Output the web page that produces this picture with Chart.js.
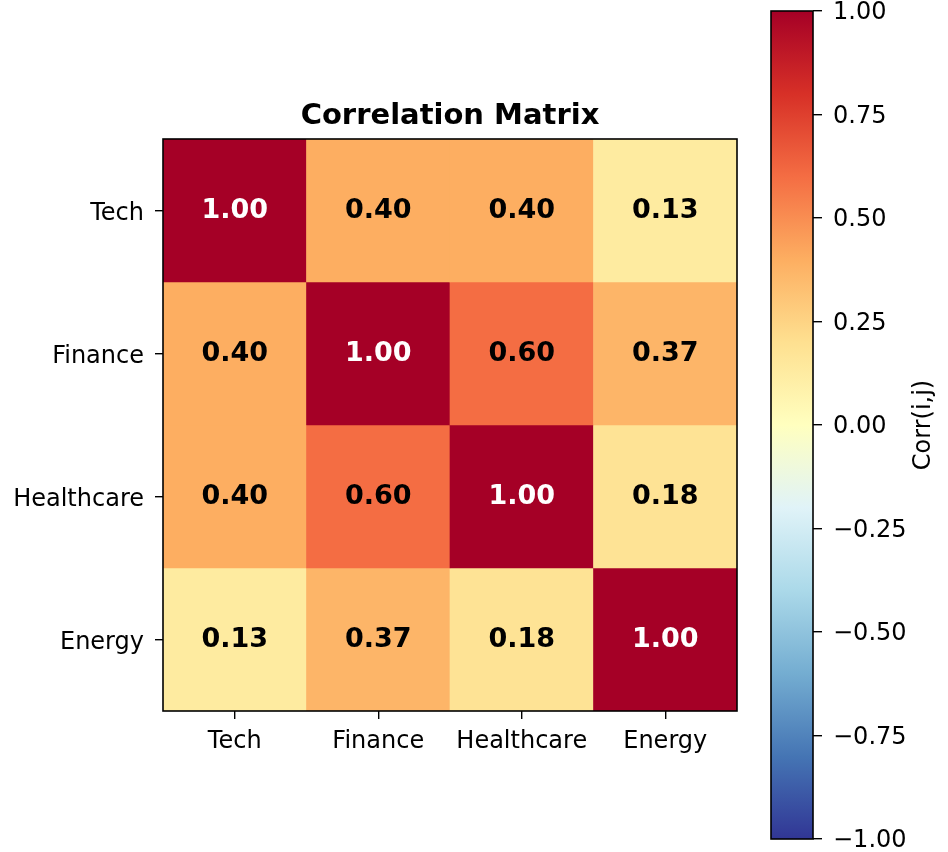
<!DOCTYPE html>
<html>
<head>
<meta charset="utf-8">
<script src="https://cdn.jsdelivr.net/npm/chart.js@4.4.1/dist/chart.umd.min.js"></script>
<style>
    body { margin: 0; background: #fff; }
    #wrap { position: relative; width: 948px; height: 852px; }
    canvas { position: absolute; left: 0; top: 0; }
</style>
</head>
<body>
<div id="wrap">
    <canvas id="matriz" width="948" height="852"></canvas>
    <canvas id="barra" width="948" height="852"></canvas>
</div>
<script>
const linhas = ["Tech", "Finance", "Healthcare", "Energy"];
const colunas = ["Tech", "Finance", "Healthcare", "Energy"];

const corrTech = [1.00, 0.40, 0.40, 0.13];
const corrFinance = [0.40, 1.00, 0.60, 0.37];
const corrHealthcare = [0.40, 0.60, 1.00, 0.18];
const corrEnergy = [0.13, 0.37, 0.18, 1.00];
const valores = [corrTech, corrFinance, corrHealthcare, corrEnergy];

const ticksBarra = [1.00, 0.75, 0.50, 0.25, 0.00, -0.25, -0.50, -0.75, -1.00];

// RdYlBu invertido (de -1 ate 1)
const paleta = ["#313695", "#4575b4", "#74add1", "#abd9e9", "#e0f3f8", "#ffffbf",
                "#fee090", "#fdae61", "#f46d43", "#d73027", "#a50026"];

const FONTE = "'DejaVu Sans', sans-serif";
Chart.defaults.color = "#000";
Chart.defaults.font.family = FONTE;

function hexParaRgb(h) {
    return [parseInt(h.substr(1, 2), 16), parseInt(h.substr(3, 2), 16), parseInt(h.substr(5, 2), 16)];
}

function corPara(v) {
    const t = Math.min(1, Math.max(0, (v + 1) / 2)) * (paleta.length - 1);
    const i = Math.min(paleta.length - 2, Math.floor(t));
    const f = t - i;
    const a = hexParaRgb(paleta[i]);
    const b = hexParaRgb(paleta[i + 1]);
    const c = a.map((x, k) => Math.round(x + (b[k] - x) * f));
    return `rgb(${c[0]}, ${c[1]}, ${c[2]})`;
}

// moldura preta em volta da area do grafico
const moldura = {
    id: "moldura",
    afterDraw(chart) {
        const { ctx, chartArea } = chart;
        ctx.save();
        ctx.strokeStyle = "#000";
        ctx.lineWidth = 1.6;
        ctx.strokeRect(chartArea.left, chartArea.top, chartArea.right - chartArea.left, chartArea.bottom - chartArea.top);
        ctx.restore();
    }
};

// titulo centrado sobre a matriz (como no matplotlib)
const titulo = {
    id: "titulo",
    afterDraw(chart) {
        const { ctx, chartArea } = chart;
        ctx.save();
        ctx.font = `bold 29px ${FONTE}`;
        ctx.fillStyle = "#000";
        ctx.textAlign = "center";
        ctx.textBaseline = "alphabetic";
        ctx.fillText("Correlation Matrix", (chartArea.left + chartArea.right) / 2, chartArea.top - 15);
        ctx.restore();
    }
};

// numeros dentro das celulas
const rotulos = {
    id: "rotulos",
    afterDatasetsDraw(chart) {
        const { ctx, scales } = chart;
        ctx.save();
        ctx.font = `bold 27px ${FONTE}`;
        ctx.textAlign = "center";
        ctx.textBaseline = "middle";
        valores.forEach((linha, i) => {
            linha.forEach((v, j) => {
                ctx.fillStyle = v > 0.7 ? "#fff" : "#000";
                ctx.fillText(v.toFixed(2), scales.x.getPixelForValue(j), scales.y.getPixelForValue(i));
            });
        });
        ctx.restore();
    }
};

new Chart(document.getElementById("matriz"), {
    type: "bar",
    data: {
        labels: colunas,
        datasets: valores.map((linha, i) => ({
            label: linhas[i],
            data: linha.map(() => [i - 0.5, i + 0.5]),
            backgroundColor: linha.map(corPara),
            borderWidth: 0,
            barPercentage: 1,
            categoryPercentage: 1,
            grouped: false
        }))
    },
    options: {
        responsive: false,
        animation: false,
        devicePixelRatio: 1,
        layout: { padding: { left: 0, right: 211, top: 139, bottom: 0 } },
        plugins: {
            legend: { display: false },
            tooltip: { enabled: false },
            title: { display: false }
        },
        scales: {
            x: {
                type: "category",
                grid: { offset: false, drawOnChartArea: false, drawTicks: true, tickLength: 8, color: "#000", lineWidth: 1.4 },
                border: { display: false },
                ticks: { font: { size: 24 }, padding: 8, maxRotation: 0 },
                afterFit(scale) { scale.height = 141; }
            },
            y: {
                type: "linear",
                min: -0.5,
                max: 3.5,
                reverse: true,
                afterBuildTicks(scale) { scale.ticks = linhas.map((_, i) => ({ value: i })); },
                grid: { drawOnChartArea: false, drawTicks: true, tickLength: 8, color: "#000", lineWidth: 1.4 },
                border: { display: false },
                ticks: { font: { size: 24 }, padding: 11, labelOffset: 3, callback: (v) => linhas[v] },
                afterFit(scale) { scale.width = 163; }
            }
        }
    },
    plugins: [moldura, rotulos, titulo]
});

// barra de cores
const tituloBarra = {
    id: "tituloBarra",
    afterDraw(chart) {
        const { ctx, chartArea } = chart;
        ctx.save();
        ctx.font = `24px ${FONTE}`;
        ctx.fillStyle = "#000";
        ctx.textAlign = "center";
        ctx.textBaseline = "middle";
        ctx.translate(924, (chartArea.top + chartArea.bottom) / 2);
        ctx.rotate(-Math.PI / 2);
        ctx.fillText("Corr(i,j)", 0, 0);
        ctx.restore();
    }
};

new Chart(document.getElementById("barra"), {
    type: "bar",
    data: {
        labels: ["corr"],
        datasets: [{
            data: [[-1, 1]],
            backgroundColor(context) {
                const area = context.chart.chartArea;
                if (!area) return paleta[5];
                const g = context.chart.ctx.createLinearGradient(0, area.bottom, 0, area.top);
                paleta.forEach((c, k) => g.addColorStop(k / (paleta.length - 1), c));
                return g;
            },
            borderWidth: 0,
            barPercentage: 1,
            categoryPercentage: 1
        }]
    },
    options: {
        responsive: false,
        animation: false,
        devicePixelRatio: 1,
        layout: { padding: { left: 771, right: 0, top: 11, bottom: 13 } },
        plugins: { legend: { display: false }, tooltip: { enabled: false } },
        scales: {
            x: { display: false },
            y: {
                type: "linear",
                position: "right",
                min: -1,
                max: 1,
                afterBuildTicks(scale) { scale.ticks = ticksBarra.map(v => ({ value: v })); },
                grid: { drawOnChartArea: false, drawTicks: true, tickLength: 9, color: "#000", lineWidth: 1.4 },
                border: { display: false },
                ticks: {
                    font: { size: 24 },
                    padding: 11,
                    labelOffset: 2,
                    callback: (v) => (v < 0 ? "\u2212" : "") + Math.abs(v).toFixed(2)
                },
                afterFit(scale) {
                    scale.width = 135;
                    scale.paddingTop = 0;
                    scale.paddingBottom = 0;
                }
            }
        }
    },
    plugins: [moldura, tituloBarra]
});
</script>
</body>
</html>
